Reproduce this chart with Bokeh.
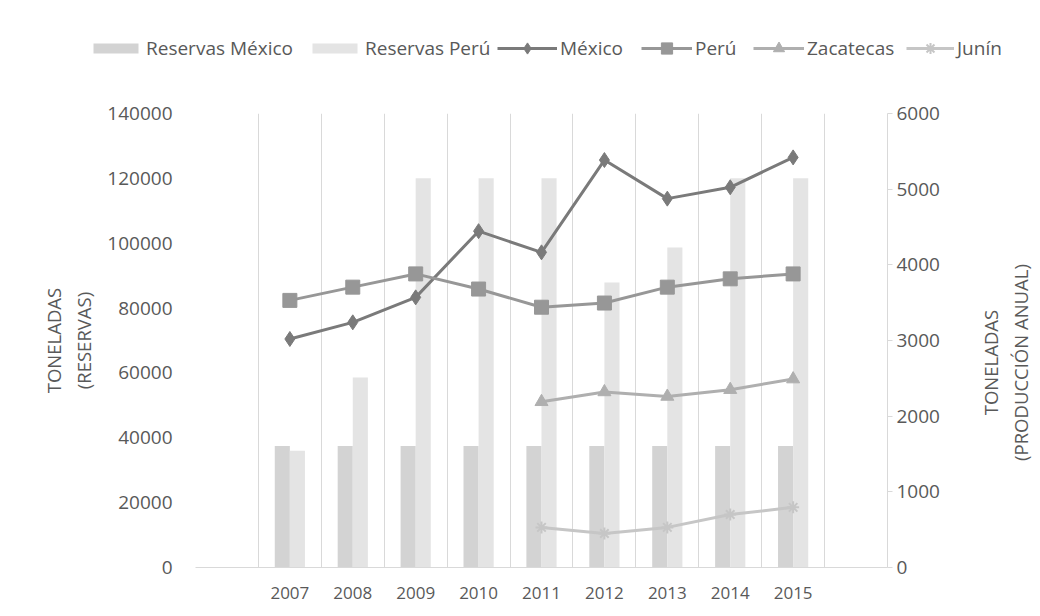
import math
from bokeh.plotting import figure
from bokeh.layouts import column, row
from bokeh.models import (Range1d, LinearAxis, FixedTicker, Legend, LegendItem, Label,
                          ColumnDataSource, NumeralTickFormatter)
from bokeh.transform import dodge
from bokeh.embed import file_html
from bokeh.resources import INLINE

# ---- data ----
years = [2007, 2008, 2009, 2010, 2011, 2012, 2013, 2014, 2015]
reservas_mexico = [37500, 37500, 37500, 37500, 37500, 37500, 37500, 37500, 37500]
reservas_peru = [36000, 58600, 120000, 120000, 120000, 87900, 98700, 120000, 120000]
prod_mexico = [3020, 3240, 3570, 4445, 4165, 5385, 4875, 5025, 5420]
prod_peru = [3530, 3705, 3880, 3680, 3440, 3495, 3705, 3815, 3880]
years_regional = [2011, 2012, 2013, 2014, 2015]
prod_zacatecas = [2190, 2320, 2260, 2350, 2490]
prod_junin = [530, 450, 530, 700, 795]
left_ticks = [0, 20000, 40000, 60000, 80000, 100000, 120000, 140000]
right_ticks = [0, 1000, 2000, 3000, 4000, 5000, 6000]

FONT = "Open Sans"
TXT = "#595959"
GRID = "#d9d9d9"
C_BMX, C_BPE = "#d3d3d3", "#e4e4e4"
C_MX, C_PE, C_ZA, C_JU = "#7a7a7a", "#979797", "#afafaf", "#c6c6c6"


def no_align(fig):
    if "frame_align" in fig.properties():
        fig.frame_align = False


bars = ColumnDataSource(dict(year=years, mx=reservas_mexico, pe=reservas_peru))
prod = ColumnDataSource(dict(year=years, mx=prod_mexico, pe=prod_peru))
reg = ColumnDataSource(dict(year=years_regional, zac=prod_zacatecas, jun=prod_junin))

# ================= main chart =================
p = figure(width=970, height=536, output_backend="svg", toolbar_location=None,
           x_range=Range1d(2005.5, 2016.5), y_range=Range1d(0, 140000),
           min_border_left=195, min_border_right=83, min_border_top=33, min_border_bottom=49)
no_align(p)
p.extra_y_ranges = {"prod": Range1d(0, 6000)}
p.outline_line_color = None

p.xgrid.ticker = FixedTicker(ticks=[y + 0.5 for y in range(2005, 2017)])
p.xgrid.grid_line_color = GRID
p.ygrid.grid_line_color = None

xa = p.xaxis[0]
xa.ticker = FixedTicker(ticks=years)
xa.axis_line_color = GRID
xa.major_tick_line_color = None
xa.minor_tick_line_color = None
xa.major_label_standoff = 13
xa.major_label_text_font = FONT
xa.major_label_text_font_size = "17px"
xa.major_label_text_color = TXT

ya = p.yaxis[0]
ya.ticker = FixedTicker(ticks=left_ticks)
ya.formatter = NumeralTickFormatter(format="0")
ya.axis_line_color = None
ya.major_tick_line_color = None
ya.minor_tick_line_color = None
ya.major_tick_out = 0
ya.major_label_standoff = 23
ya.major_label_text_font = FONT
ya.major_label_text_font_size = "19px"
ya.major_label_text_color = TXT
ya.axis_label = "TONELADAS\n(RESERVAS)"
ya.axis_label_text_font = FONT
ya.axis_label_text_font_style = "normal"
ya.axis_label_text_font_size = "18.5px"
ya.axis_label_text_color = TXT
ya.axis_label_standoff = 8

ra = LinearAxis(y_range_name="prod", ticker=FixedTicker(ticks=right_ticks))
ra.axis_line_color = GRID
ra.major_tick_line_color = GRID
ra.major_tick_out = 5
ra.major_tick_in = 0
ra.minor_tick_line_color = None
ra.major_label_standoff = 4
ra.major_label_text_font = FONT
ra.major_label_text_font_size = "19px"
ra.major_label_text_color = TXT
p.add_layout(ra, "right")

bw = 0.24
p.vbar(x=dodge("year", -bw / 2), top="mx", bottom=0, width=bw, source=bars,
       fill_color=C_BMX, line_color=None)
p.vbar(x=dodge("year", bw / 2), top="pe", bottom=0, width=bw, source=bars,
       fill_color=C_BPE, line_color=None)

series = [
    ("México", prod, "mx", C_MX, "diamond", 15, 1),
    ("Perú", prod, "pe", C_PE, "square", 14, 1),
    ("Zacatecas", reg, "zac", C_ZA, "triangle", 13, 1),
    ("Junín", reg, "jun", C_JU, "asterisk", 12, 2),
]
for name, src, col, c, mk, sz, lw in series:
    p.line("year", col, source=src, y_range_name="prod", line_color=c, line_width=3)
    p.scatter("year", col, source=src, y_range_name="prod", marker=mk, size=sz,
              fill_color=c, line_color=c, line_width=lw)

# ================= right axis title strip =================
tf = figure(width=70, height=536, output_backend="svg", toolbar_location=None,
            x_range=Range1d(0, 1), y_range=Range1d(0, 1),
            x_axis_location=None, y_axis_location=None,
            min_border_left=0, min_border_right=0, min_border_top=0, min_border_bottom=0)
no_align(tf)
tf.outline_line_color = None
tf.grid.visible = False
tf.add_layout(Label(x=35, y=254, x_units="screen", y_units="screen",
                    text="TONELADAS\n(PRODUCCIÓN ANUAL)", angle=math.pi / 2,
                    text_align="center", text_baseline="middle",
                    text_font=FONT, text_font_size="18.5px", text_color=TXT))

# ================= legend strip =================
lf = figure(width=1040, height=80, output_backend="svg", toolbar_location=None,
            x_range=Range1d(0, 1), y_range=Range1d(0, 1),
            x_axis_location=None, y_axis_location=None,
            min_border_left=0, min_border_right=0, min_border_top=0, min_border_bottom=0)
no_align(lf)
lf.outline_line_color = None
lf.grid.visible = False
nan_src = ColumnDataSource(dict(x=[float("nan")], y=[float("nan")]))


def proxy_bar(color):
    return [lf.line("x", "y", source=nan_src, line_color=color, line_width=10,
                    line_dash="0 5 45 5")]


def proxy_line(color, marker, lw):
    return [lf.line("x", "y", source=nan_src, line_color=color, line_width=3),
            lf.scatter("x", "y", source=nan_src, marker=marker, fill_color=color,
                       line_color=color, line_width=lw)]


entries = [
    ("Reservas México", proxy_bar(C_BMX), 88, 55),
    ("Reservas Perú", proxy_bar(C_BPE), 307, 55),
    ("México", proxy_line(C_MX, "diamond", 1), 497, 60),
    ("Perú", proxy_line(C_PE, "square", 1), 641, 51),
    ("Zacatecas", proxy_line(C_ZA, "triangle", 1), 753, 51),
    ("Junín", proxy_line(C_JU, "asterisk", 2), 906, 48),
]
for label, rs, x0, gw in entries:
    lf.add_layout(Legend(items=[LegendItem(label=label, renderers=rs)], location=(x0, 18),
                         orientation="horizontal", glyph_width=gw, glyph_height=28,
                         label_height=28, label_standoff=3, padding=0, margin=0, spacing=0,
                         border_line_color=None, background_fill_alpha=0,
                         label_text_font=FONT, label_text_font_size="19px",
                         label_text_color=TXT))

layout = column(lf, row(p, tf, spacing=0), spacing=0)
open("out.html", "w").write(file_html(layout, INLINE))
